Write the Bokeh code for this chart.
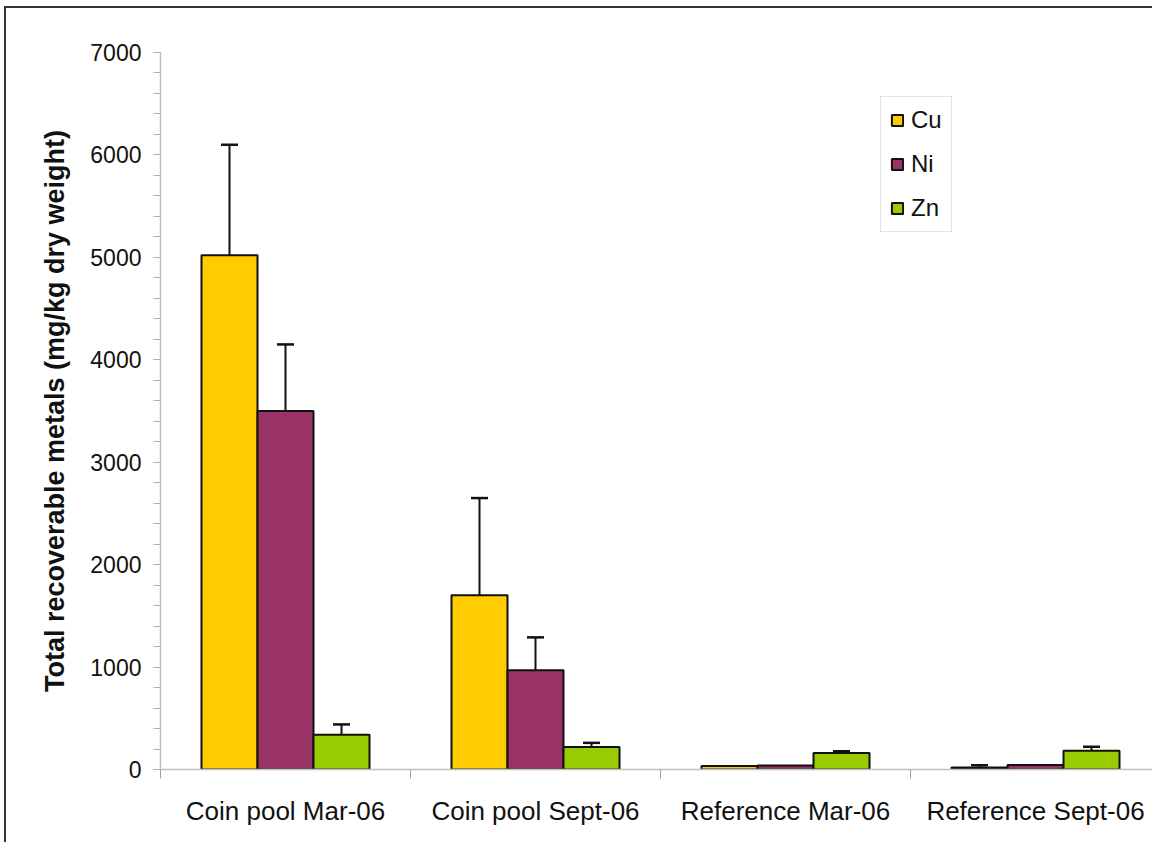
from bokeh.plotting import figure
from bokeh.models import (Range1d, FixedTicker, SingleIntervalTicker, Whisker, TeeHead,
                          ColumnDataSource, Legend, LegendItem)
from bokeh.embed import file_html
from bokeh.resources import INLINE

categories = ["Coin pool Mar-06", "Coin pool Sept-06", "Reference Mar-06", "Reference Sept-06"]
metals = ["Cu", "Ni", "Zn"]
cu = [5020, 1700, 35, 20]
ni = [3500, 970, 40, 45]
zn = [340, 220, 160, 182]
cu_sd = [1080, 950, 0, 22]
ni_sd = [650, 320, 0, 0]
zn_sd = [100, 40, 18, 40]
colors = ["#FFCC00", "#993366", "#99CC00"]

FONT = "Liberation Sans"

p = figure(width=1148, height=836, output_backend="svg", toolbar_location=None,
           x_range=Range1d(0, 3.976), y_range=Range1d(0, 7000),
           min_border_left=154, min_border_top=44, min_border_bottom=75, min_border_right=0)
p.styles = {"border-left": "2px solid #333333", "border-top": "2px solid #333333",
            "margin-left": "4px", "margin-top": "6px"}
p.outline_line_color = None
p.xgrid.grid_line_color = None
p.ygrid.grid_line_color = None
p.background_fill_color = "white"
p.border_fill_color = "white"

bw = 0.224
offsets = [-bw, 0.0, bw]
series = [cu, ni, zn]
sds = [cu_sd, ni_sd, zn_sd]
items = []
for k, (name, vals, sd, col) in enumerate(zip(metals, series, sds, colors)):
    xs = [i + 0.5 + offsets[k] for i in range(len(categories))]
    src = ColumnDataSource(dict(x=xs, top=vals))
    r = p.vbar(x="x", top="top", bottom=0, width=bw, source=src,
               fill_color=col, line_color="#111111", line_width=2)
    items.append(LegendItem(label=name, renderers=[r]))
    ex = [x for x, s in zip(xs, sd) if s > 0]
    elo = [v for v, s in zip(vals, sd) if s > 0]
    ehi = [v + s for v, s in zip(vals, sd) if s > 0]
    esrc = ColumnDataSource(dict(base=ex, lower=elo, upper=ehi))
    w = Whisker(base="base", lower="lower", upper="upper", source=esrc, dimension="height",
                line_color="#111111", line_width=2,
                upper_head=TeeHead(size=17, line_color="#111111", line_width=2.5),
                lower_head=None)
    p.add_layout(w)

legend = Legend(items=items, location=(720, 537), orientation="vertical",
                glyph_width=14, glyph_height=14, label_height=20, spacing=16,
                padding=9, margin=0, label_standoff=7,
                label_text_font=FONT, label_text_font_size="24px", label_text_color="#111111",
                border_line_color="#c8c8c8", border_line_width=1,
                background_fill_color="white", background_fill_alpha=1.0)
p.add_layout(legend, "center")

# x axis
xa = p.xaxis[0]
xa.ticker = FixedTicker(ticks=[i + 0.5 for i in range(len(categories))],
                        minor_ticks=list(range(len(categories))))
xa.major_label_overrides = {i + 0.5: c for i, c in enumerate(categories)}
xa.major_tick_line_color = None
xa.major_tick_out = 0
xa.major_tick_in = 0
xa.minor_tick_out = 9
xa.minor_tick_in = 0
xa.minor_tick_line_color = "#a0a0a0"
xa.axis_line_color = "#c0c0c0"
xa.axis_line_width = 1.5
xa.major_label_text_font = FONT
xa.major_label_text_font_size = "26px"
xa.major_label_text_color = "#111111"
xa.major_label_standoff = 17

# y axis
ya = p.yaxis[0]
ya.ticker = SingleIntervalTicker(interval=1000, num_minor_ticks=5)
ya.major_tick_out = 7
ya.major_tick_in = 0
ya.minor_tick_out = 7
ya.minor_tick_in = 0
ya.major_tick_line_color = "#a0a0a0"
ya.minor_tick_line_color = "#b0b0b0"
ya.axis_line_color = "#c0c0c0"
ya.axis_line_width = 1.5
ya.major_label_text_font = FONT
ya.major_label_text_font_size = "23px"
ya.major_label_text_color = "#111111"
ya.major_label_standoff = 12
ya.axis_label = "Total recoverable metals (mg/kg dry weight)"
ya.axis_label_text_font = FONT
ya.axis_label_text_font_size = "27px"
ya.axis_label_text_font_style = "bold"
ya.axis_label_text_color = "#111111"
ya.axis_label_standoff = 17

open("out.html", "w").write(file_html(p, INLINE))
